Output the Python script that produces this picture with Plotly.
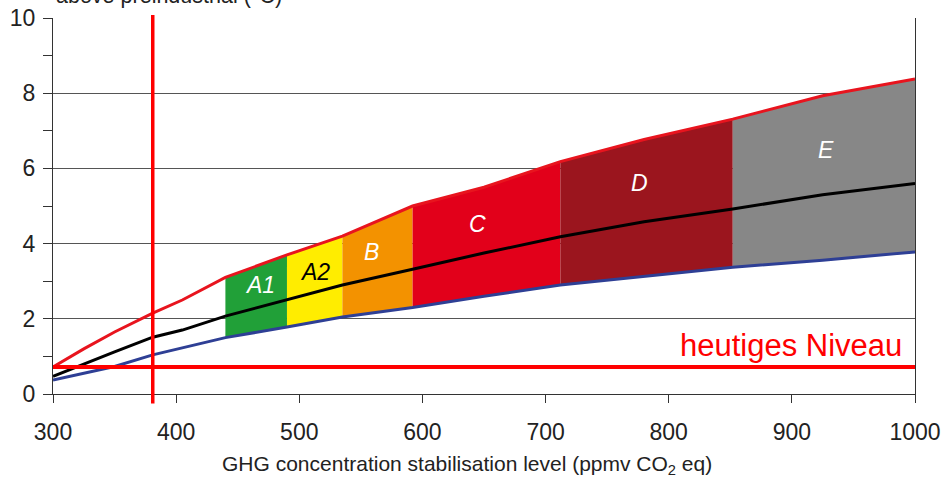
import numpy as np
import plotly.graph_objects as go

# ---- data ----
X_PTS = [300, 325, 350, 381, 405, 440, 490, 535, 592, 650, 712, 780, 852, 925, 1000]
UPPER = [0.72, 1.2, 1.65, 2.15, 2.5, 3.1, 3.7, 4.2, 5.0, 5.5, 6.18, 6.77, 7.31, 7.93, 8.38]
MIDDLE = [0.47, 0.8, 1.12, 1.51, 1.7, 2.07, 2.5, 2.9, 3.32, 3.75, 4.18, 4.58, 4.92, 5.3, 5.6]
LOWER = [0.37, 0.55, 0.73, 1.04, 1.22, 1.5, 1.78, 2.05, 2.3, 2.6, 2.9, 3.12, 3.37, 3.56, 3.78]

CATEGORIES = ["A1", "A2", "B", "C", "D", "E"]
CAT_START = [440, 490, 535, 592, 712, 852]
CAT_END = [490, 535, 592, 712, 852, 1000]
CAT_COLORS = ["#21a038", "#ffed00", "#f39200", "#e2001a", "#9b151e", "#878787"]
LABEL_COLORS = ["white", "black", "white", "white", "white", "white"]
LABEL_X = [468, 513, 559, 645, 776, 928]
LABEL_Y = [2.9, 3.25, 3.78, 4.52, 5.61, 6.49]

TODAY_CO2 = 381
TODAY_TEMP = 0.72
TODAY_LABEL = "heutiges Niveau"

X_TICKS = [300, 400, 500, 600, 700, 800, 900, 1000]
Y_TICKS = [0, 2, 4, 6, 8, 10]

FONT = "Liberation Sans, Arial, sans-serif"

fig = go.Figure()

xp = np.array(X_PTS, dtype=float)
for name, x0, x1, col in zip(CATEGORIES, CAT_START, CAT_END, CAT_COLORS):
    inner = [x for x in X_PTS if x0 < x < x1]
    xs = np.array([x0] + inner + [x1], dtype=float)
    up = np.interp(xs, xp, UPPER)
    lo = np.interp(xs, xp, LOWER)
    fig.add_trace(go.Scatter(
        x=list(xs) + list(xs[::-1]),
        y=list(up) + list(lo[::-1]),
        fill="toself", fillcolor=col, mode="none", name=name,
        line=dict(width=0), hoverinfo="skip", showlegend=False))

fig.add_trace(go.Scatter(x=X_PTS, y=LOWER, mode="lines",
                         line=dict(color="#2e3f95", width=3), showlegend=False))
fig.add_trace(go.Scatter(x=X_PTS, y=UPPER, mode="lines",
                         line=dict(color="#e8141e", width=3), showlegend=False))
fig.add_trace(go.Scatter(x=X_PTS, y=MIDDLE, mode="lines",
                         line=dict(color="black", width=3), showlegend=False))

fig.add_trace(go.Scatter(x=[X_PTS[0], X_PTS[-1]], y=[TODAY_TEMP, TODAY_TEMP], mode="lines",
                         line=dict(color="#ff0000", width=4), showlegend=False))

fig.add_shape(type="line", xref="x", yref="paper", x0=TODAY_CO2, x1=TODAY_CO2,
              y0=-0.025, y1=1.008, line=dict(color="#ff0000", width=3.5), layer="above")

for txt, lx, ly, lc in zip(CATEGORIES, LABEL_X, LABEL_Y, LABEL_COLORS):
    fig.add_annotation(x=lx, y=ly, text=f"<i>{txt}</i>", showarrow=False,
                       font=dict(family=FONT, size=23, color=lc))

fig.add_annotation(x=X_PTS[-1], y=TODAY_TEMP, xref="x", yref="y", text=TODAY_LABEL,
                   showarrow=False, xanchor="right", yanchor="bottom", xshift=-11, yshift=2,
                   font=dict(family=FONT, size=31, color="#ff0000"))

fig.add_annotation(xref="paper", yref="paper", x=0.48, y=-0.189,
                   text="GHG concentration stabilisation level (ppmv CO<sub>2</sub> eq)",
                   showarrow=False, xanchor="center", yanchor="middle",
                   font=dict(family=FONT, size=21, color="#222222"))

fig.add_annotation(xref="paper", yref="paper", x=0.002, y=1.023,
                   text="above preindustrial (°C)", showarrow=False,
                   xanchor="left", yanchor="bottom", borderpad=0,
                   font=dict(family=FONT, size=21.5, color="#222222"))

fig.update_layout(
    width=941, height=479,
    margin=dict(l=53, r=26, t=18, b=85, autoexpand=False),
    paper_bgcolor="white", plot_bgcolor="white",
    font=dict(family=FONT, size=23, color="#222222"),
    showlegend=False,
    xaxis=dict(range=[300, 1000], tickvals=X_TICKS, showgrid=False, zeroline=False,
               showline=True, linecolor="#333333", linewidth=1, automargin=False,
               ticks="outside", ticklen=8, tickcolor="#333333",
               tickfont=dict(size=23), ticklabelstandoff=9),
    yaxis=dict(range=[0, 10], tickvals=Y_TICKS, showgrid=True, gridcolor="#555555",
               gridwidth=1, zeroline=False, showline=True, linecolor="#333333",
               linewidth=1, mirror=True, automargin=False,
               ticks="outside", ticklen=9, tickcolor="#333333",
               minor=dict(dtick=1, ticks="outside", ticklen=9, tickcolor="#333333",
                          showgrid=False),
               tickfont=dict(size=23), ticklabelstandoff=3),
)

fig.write_html("out.html", config={"displayModeBar": False},
               post_script="document.body.style.margin='0px';document.body.style.overflow='hidden';")
